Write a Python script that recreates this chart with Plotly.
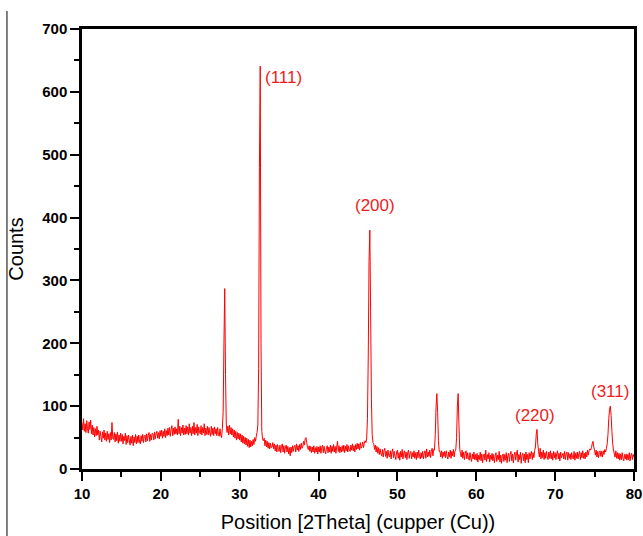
import plotly.graph_objects as go

# 2-theta positions, 10.0 .. 80.0 in 0.1 degree steps
two_theta = [round(10 + i * 0.1, 1) for i in range(701)]

# Counts, one row per degree (10.x, 11.x, ...)
counts = [
    74, 62, 80, 60, 72, 58, 77, 64, 57, 75,   # 10
    63, 78, 56, 70, 54, 66, 51, 64, 53, 68,   # 11
    54, 62, 46, 60, 52, 43, 59, 49, 62, 46,   # 12
    57, 44, 60, 47, 56, 42, 58, 46, 74, 49,   # 13
    47, 58, 43, 56, 45, 59, 41, 54, 44, 57,   # 14
    44, 55, 40, 52, 45, 57, 39, 53, 42, 54,   # 15
    46, 38, 52, 41, 54, 37, 51, 42, 55, 40,   # 16
    52, 42, 54, 43, 40, 53, 44, 55, 42, 52,   # 17
    54, 43, 56, 45, 53, 58, 44, 55, 46, 57,   # 18
    56, 46, 59, 48, 57, 60, 49, 58, 48, 61,   # 19
    52, 62, 49, 60, 52, 64, 50, 61, 53, 65,   # 20
    54, 66, 52, 63, 69, 53, 65, 55, 67, 56,   # 21
    64, 54, 79, 56, 68, 53, 66, 57, 70, 54,   # 22
    65, 55, 69, 56, 67, 54, 72, 57, 66, 53,   # 23
    68, 56, 74, 54, 66, 57, 71, 53, 67, 58,   # 24
    56, 69, 54, 66, 57, 72, 53, 65, 55, 68,   # 25
    54, 66, 57, 52, 68, 55, 65, 53, 67, 56,   # 26
    64, 53, 66, 55, 52, 64, 54, 50, 65, 90,   # 27
    200, 287, 150, 70, 58, 68, 54, 70, 56, 66,  # 28
    54, 64, 51, 62, 49, 60, 46, 58, 48, 57,   # 29
    46, 56, 43, 54, 41, 52, 40, 50, 38, 49,   # 30
    36, 47, 34, 46, 35, 44, 37, 47, 39, 50,   # 31
    44, 52, 58, 70, 160, 480, 641, 200, 60, 48,  # 32
    45, 49, 37, 46, 35, 44, 33, 42, 32, 41,   # 33
    34, 35, 42, 32, 40, 29, 38, 27, 39, 31,   # 34
    28, 38, 26, 36, 40, 27, 37, 25, 35, 38,   # 35
    27, 36, 24, 34, 21, 35, 26, 37, 28, 36,   # 36
    38, 27, 40, 30, 37, 28, 39, 31, 41, 33,   # 37
    36, 44, 38, 48, 50, 42, 34, 31, 37, 28,   # 38
    36, 26, 35, 27, 37, 25, 34, 27, 36, 24,   # 39
    35, 27, 37, 25, 34, 38, 26, 36, 28, 24,   # 40
    34, 37, 26, 35, 27, 38, 25, 36, 28, 39,   # 41
    27, 36, 25, 35, 44, 28, 37, 26, 35, 27,   # 42
    37, 28, 38, 26, 36, 29, 39, 27, 37, 30,   # 43
    28, 38, 30, 40, 29, 37, 27, 39, 31, 41,   # 44
    32, 40, 30, 42, 33, 36, 43, 34, 41, 45,   # 45
    42, 48, 80, 180, 330, 380, 250, 110, 55, 42,  # 46
    40, 31, 38, 27, 36, 25, 34, 23, 32, 24,   # 47
    21, 31, 19, 29, 33, 20, 28, 17, 30, 21,   # 48
    19, 29, 16, 27, 32, 18, 28, 20, 15, 27,   # 49
    30, 17, 26, 14, 28, 19, 31, 16, 25, 29,   # 50
    18, 27, 15, 26, 30, 17, 25, 28, 16, 26,   # 51
    19, 29, 17, 26, 15, 27, 18, 30, 20, 16,   # 52
    26, 18, 28, 16, 25, 29, 17, 32, 19, 27,   # 53
    20, 30, 18, 28, 33, 21, 31, 30, 55, 100,  # 54
    120, 90, 45, 28, 28, 19, 29, 17, 27, 20,  # 55
    28, 18, 29, 20, 16, 27, 19, 30, 17, 28,   # 56
    21, 31, 19, 29, 30, 50, 100, 120, 70, 32,  # 57
    24, 19, 30, 17, 27, 15, 25, 29, 16, 26,   # 58
    18, 14, 26, 17, 12, 24, 16, 27, 15, 23,   # 59
    14, 25, 11, 22, 15, 27, 13, 24, 10, 21,   # 60
    24, 14, 30, 12, 23, 16, 26, 11, 22, 15,   # 61
    25, 13, 23, 10, 21, 26, 12, 22, 15, 28,   # 62
    11, 22, 9, 20, 24, 12, 23, 14, 26, 10,    # 63
    21, 25, 12, 23, 28, 13, 24, 10, 22, 27,   # 64
    14, 24, 30, 11, 23, 15, 27, 9, 22, 25,    # 65
    13, 24, 10, 27, 15, 23, 10, 26, 16, 24,   # 66
    28, 15, 26, 18, 29, 35, 55, 63, 40, 28,   # 67
    19, 33, 16, 27, 18, 30, 15, 26, 17, 28,   # 68
    19, 15, 27, 17, 29, 16, 25, 14, 28, 18,   # 69
    26, 15, 24, 29, 16, 25, 13, 27, 18, 22,   # 70
    25, 16, 28, 15, 24, 27, 14, 26, 17, 24,   # 71
    15, 26, 18, 16, 28, 14, 25, 17, 27, 16,   # 72
    24, 28, 15, 26, 18, 29, 17, 25, 16, 27,   # 73
    19, 30, 22, 29, 32, 30, 34, 40, 44, 35,   # 74
    30, 22, 30, 19, 28, 18, 26, 29, 20, 28,   # 75
    19, 29, 23, 31, 27, 33, 40, 55, 80, 95,   # 76
    100, 85, 60, 40, 30, 24, 19, 29, 17, 26,  # 77
    16, 25, 14, 24, 15, 26, 17, 13, 23, 16,   # 78
    24, 14, 23, 15, 26, 13, 22, 25, 15, 23,   # 79
    19,                                       # 80
]

peak_labels = ["(111)", "(200)", "(220)", "(311)"]
peak_label_x = [32.9, 47.1, 67.45, 76.96]
peak_label_y = [623, 420, 85, 123]
peak_label_anchor = ["left", "center", "center", "center"]

x_ticks = [10, 20, 30, 40, 50, 60, 70, 80]
y_ticks = [0, 100, 200, 300, 400, 500, 600, 700]

FONT = "Liberation Sans, Arial, sans-serif"

fig = go.Figure()
fig.add_trace(go.Scatter(
    x=two_theta, y=counts, mode="lines",
    line=dict(color="#ff0000", width=1, simplify=False),
    showlegend=False, hoverinfo="x+y",
))

for lab, lx, ly, anc in zip(peak_labels, peak_label_x, peak_label_y, peak_label_anchor):
    fig.add_annotation(
        x=lx, y=ly, text=lab, showarrow=False, xanchor=anc, yanchor="middle",
        font=dict(family=FONT, size=17, color="#ee1c1c"),
    )

# stray border line at far left of the original image
fig.add_shape(type="line", xref="paper", yref="paper",
              x0=-0.1359, x1=-0.1359, y0=-0.16, y1=1.041,
              line=dict(color="black", width=1))

axis_common = dict(
    showline=True, linecolor="black", linewidth=2.5, mirror=True,
    ticks="outside", ticklen=9, tickwidth=2, tickcolor="black",
    showgrid=False, zeroline=False, automargin=False,
    tickfont=dict(family=FONT, size=15, color="black", weight="bold"),
    minor=dict(ticks="outside", ticklen=5, tickwidth=2, tickcolor="black", showgrid=False),
)

fig.update_xaxes(
    range=[10, 80], tickvals=x_ticks, ticktext=[str(v) for v in x_ticks],
    minor_dtick=5, minor_tick0=5,
    title=dict(text="Position [2Theta] (cupper (Cu))", standoff=15,
               font=dict(family=FONT, size=20, color="black")),
    **axis_common,
)
fig.update_yaxes(
    range=[0, 700], tickvals=y_ticks, ticktext=[str(v) for v in y_ticks],
    minor_dtick=50, minor_tick0=50,
    title=dict(text="Counts", standoff=14,
               font=dict(family=FONT, size=20, color="black")),
    **axis_common,
)

fig.update_layout(
    width=643, height=536,
    margin=dict(l=82, r=9, t=29, b=67),
    plot_bgcolor="white", paper_bgcolor="white",
)

fig.write_html(
    "out.html",
    config={"displayModeBar": False},
    post_script="document.body.style.margin='0';document.body.style.overflow='hidden';",
)
